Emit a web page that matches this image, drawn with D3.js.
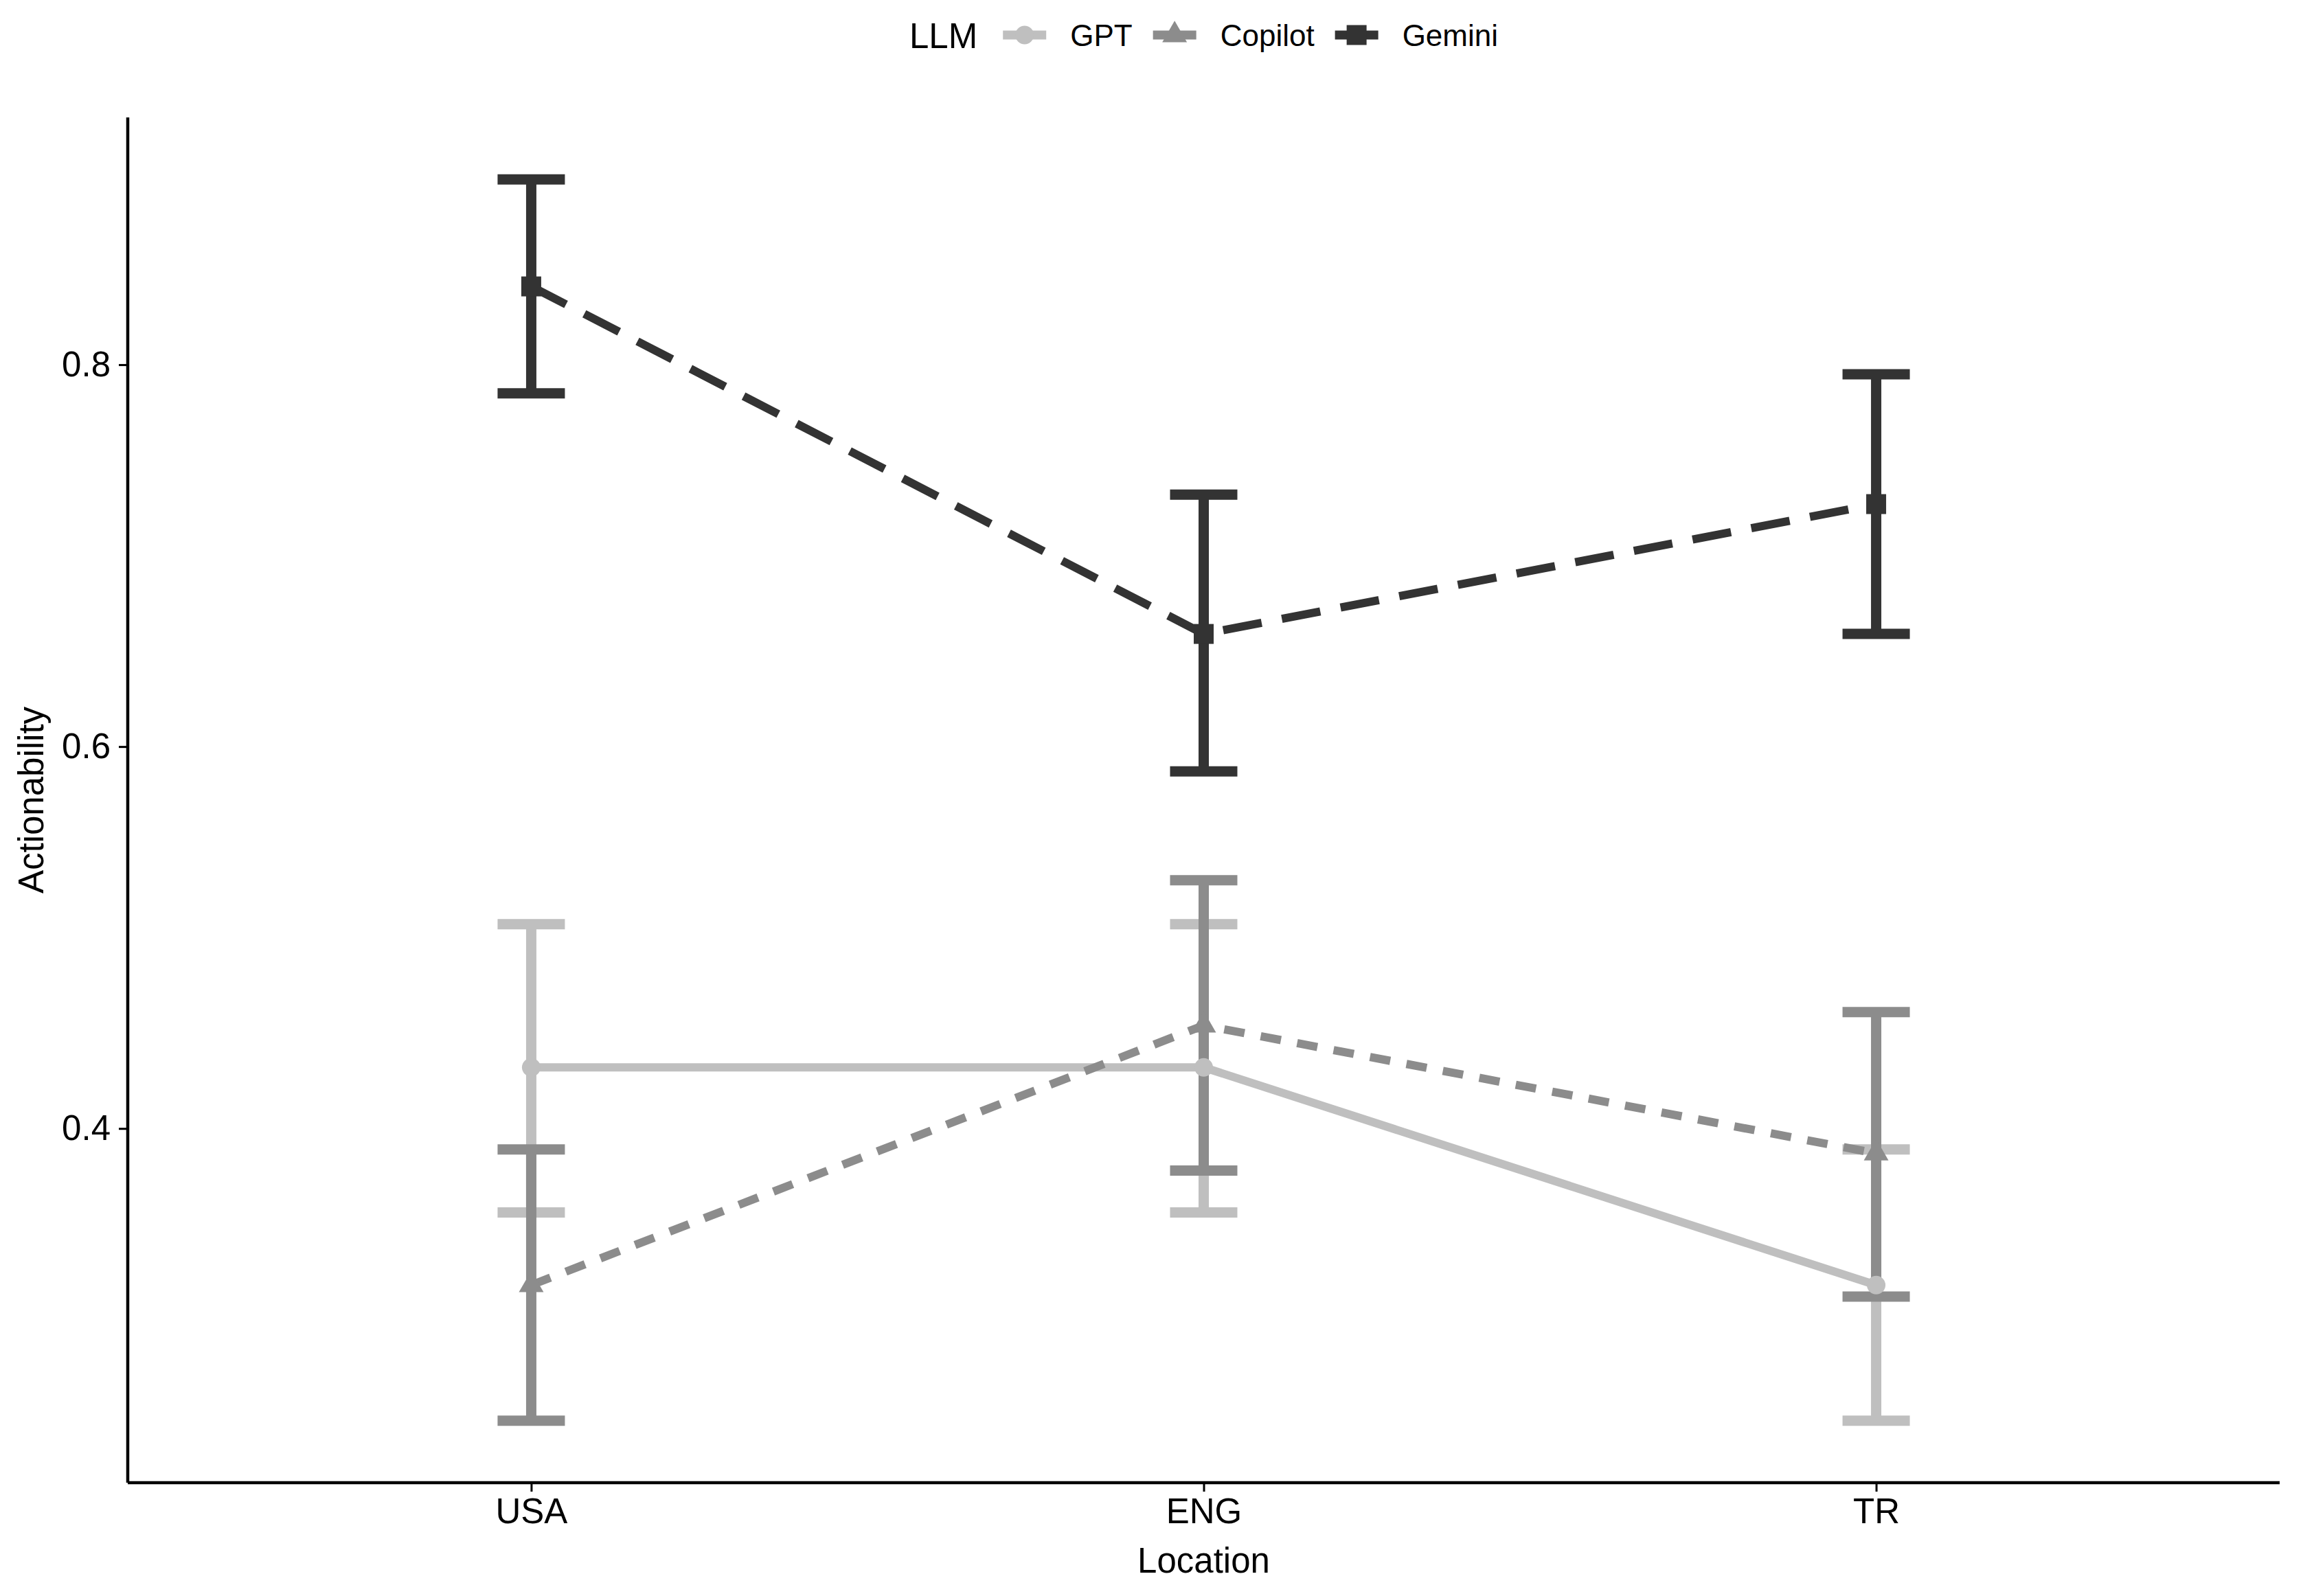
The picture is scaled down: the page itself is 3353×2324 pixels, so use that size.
<!DOCTYPE html>
<html lang="en">
  <head>
    <meta charset="UTF-8"/>
    <title>Actionability by location and LLM</title>
    <script src="https://cdnjs.cloudflare.com/ajax/libs/d3/7.8.5/d3.min.js"></script>
    <style>
      body { margin: 0; background: #ffffff; }
      text { font-family: "Liberation Sans", Arial, Helvetica, sans-serif; fill: #000; }
    </style>
  </head>
  <body>
    <script>
    // categories
    var locations = ['USA', 'ENG', 'TR'];
    var llms = ['GPT', 'Copilot', 'Gemini'];

    // means and 95% CI (order = locations)
    var gptMean = [0.432, 0.432, 0.318];
    var gptLow = [0.356, 0.356, 0.247];
    var gptHigh = [0.507, 0.507, 0.389];

    var copilotMean = [0.318, 0.454, 0.387];
    var copilotLow = [0.247, 0.378, 0.312];
    var copilotHigh = [0.389, 0.530, 0.461];

    var geminiMean = [0.841, 0.659, 0.727];
    var geminiLow = [0.785, 0.587, 0.659];
    var geminiHigh = [0.897, 0.732, 0.795];

    var yTicks = [0.4, 0.6, 0.8];

    var width = 3353;
    var height = 2324;
    var margin = {top: 171, right: 34, bottom: 165, left: 186};

    var greys = {GPT: '#bfbfbf', Copilot: '#8c8c8c', Gemini: '#333333'};
    var dashes = {GPT: null, Copilot: '30,24', Gemini: '57,30'};
    var shapes = {GPT: d3.symbolCircle, Copilot: d3.symbolTriangle, Gemini: d3.symbolSquare};
    var shapeArea = {GPT: 573, Copilot: 560, Gemini: 841};

    var series = [
      {name: 'GPT', mean: gptMean, low: gptLow, high: gptHigh},
      {name: 'Copilot', mean: copilotMean, low: copilotLow, high: copilotHigh},
      {name: 'Gemini', mean: geminiMean, low: geminiLow, high: geminiHigh}
    ];

    var svg = d3.select('body').append('svg')
      .attr('width', width)
      .attr('height', height);

    var x = d3.scalePoint()
      .domain(locations)
      .range([margin.left, width - margin.right])
      .padding(0.6);

    // ggplot style 5% expansion of the data range
    var allVals = gptLow.concat(gptHigh, copilotLow, copilotHigh, geminiLow, geminiHigh);
    var lo = d3.min(allVals), hi = d3.max(allVals);
    var pad = (hi - lo) * 0.05;
    var y = d3.scaleLinear()
      .domain([lo - pad, hi + pad])
      .range([height - margin.bottom, margin.top]);

    var capHalf = 49;

    // error bars
    series.forEach(function(s) {
      svg.append('g').selectAll('path')
        .data(locations)
        .enter().append('path')
        .attr('d', function(loc, i) {
          var cx = x(loc), yt = y(s.high[i]), yb = y(s.low[i]);
          return 'M' + (cx - capHalf) + ',' + yt + 'H' + (cx + capHalf) +
                 'M' + cx + ',' + yt + 'V' + yb +
                 'M' + (cx - capHalf) + ',' + yb + 'H' + (cx + capHalf);
        })
        .attr('fill', 'none')
        .attr('stroke', greys[s.name])
        .attr('stroke-width', 15)
        .attr('stroke-linecap', 'butt');
    });

    // lines
    var line = d3.line()
      .x(function(d) { return x(d.loc); })
      .y(function(d) { return y(d.v); });

    series.forEach(function(s) {
      var pts = locations.map(function(loc, i) { return {loc: loc, v: s.mean[i]}; });
      svg.append('path')
        .attr('d', line(pts))
        .attr('fill', 'none')
        .attr('stroke', greys[s.name])
        .attr('stroke-width', 12)
        .attr('stroke-dasharray', dashes[s.name]);
    });

    // points
    series.forEach(function(s) {
      svg.append('g').selectAll('path')
        .data(locations)
        .enter().append('path')
        .attr('transform', function(loc, i) { return 'translate(' + x(loc) + ',' + y(s.mean[i]) + ')'; })
        .attr('d', d3.symbol().type(shapes[s.name]).size(shapeArea[s.name]))
        .attr('fill', greys[s.name]);
    });

    // axes
    var xAxis = svg.append('g')
      .attr('transform', 'translate(0,' + (height - margin.bottom) + ')')
      .call(d3.axisBottom(x).tickSize(13).tickPadding(10));
    var yAxis = svg.append('g')
      .attr('transform', 'translate(' + margin.left + ',0)')
      .call(d3.axisLeft(y).tickValues(yTicks).tickFormat(d3.format('.1f')).tickSize(13).tickPadding(12));

    [xAxis, yAxis].forEach(function(a) {
      a.select('.domain').attr('stroke', '#000').attr('stroke-width', 4.5);
      a.selectAll('.tick line').attr('stroke', '#000').attr('stroke-width', 3);
      a.selectAll('.tick text')
        .attr('font-size', 51)
        .attr('font-family', '"Liberation Sans", Arial, sans-serif')
        .attr('fill', '#000');
    });
    // full-length axis lines, no end ticks
    xAxis.select('.domain').attr('d', 'M' + margin.left + ',0H' + (width - margin.right));
    yAxis.select('.domain').attr('d', 'M0,' + margin.top + 'V' + (height - margin.bottom));

    // axis titles
    svg.append('text')
      .attr('x', (margin.left + width - margin.right) / 2)
      .attr('y', 2290)
      .attr('text-anchor', 'middle')
      .attr('font-size', 51)
      .text('Location');

    svg.append('text')
      .attr('transform', 'translate(63,' + ((margin.top + height - margin.bottom) / 2) + ') rotate(-90)')
      .attr('text-anchor', 'middle')
      .attr('font-size', 51)
      .text('Actionability');

    // legend on top
    var legend = svg.append('g');
    var lx = 0;
    var ly = 51;
    var title = legend.append('text')
      .attr('x', lx).attr('y', ly + 19)
      .attr('font-size', 51)
      .text('LLM');
    lx += title.node().getComputedTextLength() + 37;

    llms.forEach(function(name) {
      legend.append('line')
        .attr('x1', lx).attr('x2', lx + 63)
        .attr('y1', ly).attr('y2', ly)
        .attr('stroke', greys[name])
        .attr('stroke-width', 13);
      legend.append('path')
        .attr('transform', 'translate(' + (lx + 31.5) + ',' + ly + ')')
        .attr('d', d3.symbol().type(shapes[name]).size(shapeArea[name]))
        .attr('fill', greys[name]);
      lx += 63 + 35;
      var t = legend.append('text')
        .attr('x', lx).attr('y', ly + 16)
        .attr('font-size', 44)
        .text(name);
      lx += t.node().getComputedTextLength() + 30;
    });
    var legendWidth = lx - 30;
    var panelMid = (margin.left + width - margin.right) / 2;
    legend.attr('transform', 'translate(' + (panelMid - legendWidth / 2) + ',0)');
    </script>
  </body>
</html>
